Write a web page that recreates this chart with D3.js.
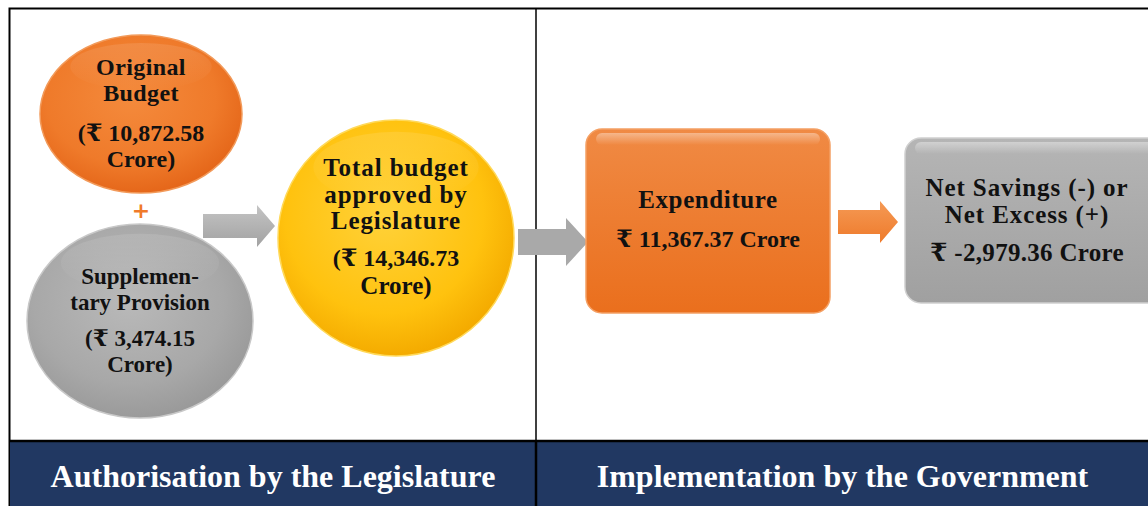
<!DOCTYPE html>
<html>
<head>
<meta charset="utf-8">
<script src="https://cdn.jsdelivr.net/npm/d3@7"></script>
<style>
  body { margin: 0; background: #fff; }
  svg { display: block; }
  .lbl { font-family: "Liberation Serif", "DejaVu Serif", serif; font-weight: bold; }
</style>
</head>
<body>
<svg id="chart" width="1148" height="506"></svg>
<script>
// values in crore
const budgetItems = ['Original Budget', 'Supplementary Provision', 'Total budget', 'Expenditure', 'Net Savings'];
const budgetValues = [10872.58, 3474.15, 14346.73, 11367.37, -2979.36];
const sectionTitles = ['Authorisation by the Legislature', 'Implementation by the Government'];

const fmt = d3.formatLocale({ decimal: '.', thousands: ',', grouping: [3], currency: ['', ''], minus: '-' }).format(',.2f');
const svg = d3.select('#chart');
const defs = svg.append('defs');

function radial(id, hi, mid, lo) {
    const g = defs.append('radialGradient').attr('id', id)
        .attr('cx', '45%').attr('cy', '40%').attr('r', '60%');
    g.append('stop').attr('offset', '0%').attr('stop-color', hi);
    g.append('stop').attr('offset', '70%').attr('stop-color', mid);
    g.append('stop').attr('offset', '100%').attr('stop-color', lo);
}
function linear(id, top, bottom) {
    const g = defs.append('linearGradient').attr('id', id)
        .attr('x1', 0).attr('y1', 0).attr('x2', 0).attr('y2', 1);
    g.append('stop').attr('offset', '0%').attr('stop-color', top);
    g.append('stop').attr('offset', '100%').attr('stop-color', bottom);
}
radial('gOrange', '#f48a3c', '#ef7a2a', '#e5671a');
radial('gGray', '#b9b9b9', '#a8a8a8', '#9a9a9a');
radial('gYellow', '#ffd23a', '#ffc20e', '#f4ab00');
linear('gRectO', '#f08a44', '#ea6f1d');
linear('gRectG', '#b5b5b5', '#a0a0a0');
linear('gArrowG', '#c4c4c4', '#a2a2a2');
linear('gArrowO', '#f59a55', '#ee7a2b');
linear('gShine', 'rgba(255,255,255,0.55)', 'rgba(255,255,255,0)');

// frame
svg.append('rect').attr('x', 9.5).attr('y', 8.5).attr('width', 1140).attr('height', 497)
    .attr('fill', 'none').attr('stroke', '#000').attr('stroke-width', 2);
svg.append('line').attr('x1', 536).attr('x2', 536).attr('y1', 8).attr('y2', 506)
    .attr('stroke', '#000').attr('stroke-width', 1.5);

// footer band
const xBand = d3.scaleOrdinal().domain(sectionTitles).range([[10, 536], [537, 1148]]);
sectionTitles.forEach(t => {
    const [a, b] = xBand(t);
    svg.append('rect').attr('x', a).attr('y', 441).attr('width', b - a).attr('height', 65)
        .attr('fill', '#213862');
    svg.append('text').attr('class', 'lbl').attr('x', (a + b) / 2).attr('y', 487)
        .attr('text-anchor', 'middle').attr('fill', '#fff')
        .attr('font-size', 32).text(t);
});
svg.append('line').attr('x1', 9).attr('x2', 1148).attr('y1', 441).attr('y2', 441)
    .attr('stroke', '#000').attr('stroke-width', 2.5);
svg.append('line').attr('x1', 536).attr('x2', 536).attr('y1', 441).attr('y2', 506)
    .attr('stroke', '#000').attr('stroke-width', 2.5);

function label(lines, cx, baselines, sizes, spacing) {
    const t = svg.append('text').attr('class', 'lbl').attr('text-anchor', 'middle').attr('fill', '#111');
    lines.forEach((l, i) => t.append('tspan').attr('x', cx).attr('y', baselines[i])
        .attr('font-size', sizes[i]).attr('letter-spacing', spacing ? spacing[i] : 0).text(l));
}

function ellipse(cx, cy, rx, ry, fill, stroke) {
    svg.append('ellipse').attr('cx', cx).attr('cy', cy).attr('rx', rx).attr('ry', ry)
        .attr('fill', fill).attr('stroke', stroke).attr('stroke-width', 1.5);
    svg.append('ellipse').attr('cx', cx).attr('cy', cy - ry * 0.6).attr('rx', rx * 0.7).attr('ry', ry * 0.3)
        .attr('fill', 'url(#gShine)').attr('opacity', 0.2);
}

function arrow(x0, x1, cy, shaftH, headH, headW, fill) {
    const pts = [
        [x0, cy - shaftH / 2], [x1 - headW, cy - shaftH / 2], [x1 - headW, cy - headH / 2],
        [x1, cy], [x1 - headW, cy + headH / 2], [x1 - headW, cy + shaftH / 2], [x0, cy + shaftH / 2]
    ];
    svg.append('path').attr('d', d3.line()(pts) + 'Z').attr('fill', fill);
}

function roundBox(x, y, w, h, fill, stroke) {
    svg.append('rect').attr('x', x).attr('y', y).attr('width', w).attr('height', h)
        .attr('rx', 16).attr('fill', fill).attr('stroke', stroke).attr('stroke-width', 1.5);
    svg.append('rect').attr('x', x + 10).attr('y', y + 4).attr('width', w - 20).attr('height', 12)
        .attr('rx', 6).attr('fill', 'url(#gShine)').attr('opacity', 0.7);
}

// original budget
ellipse(141, 114, 101, 79, 'url(#gOrange)', '#f29a5a');
label(['Original', 'Budget', '(\u20B9 ' + fmt(budgetValues[0]), 'Crore)'], 141, [75, 101, 141, 167], [24, 24, 24, 24], [0.4, 0.4, 0, 0]);

// plus
svg.append('text').attr('x', 141).attr('y', 218).attr('text-anchor', 'middle')
    .attr('font-family', 'DejaVu Sans, sans-serif').attr('font-weight', 'bold')
    .attr('font-size', 22).attr('fill', '#f07a2a').text('+');

// supplementary
ellipse(140, 321, 113, 97, 'url(#gGray)', '#c8c8c8');
label(['Supplemen-', 'tary Provision', '(\u20B9 ' + fmt(budgetValues[1]), 'Crore)'], 140, [284, 310, 346, 372], [23, 23, 23, 23]);

// arrow 1
arrow(203, 275, 226, 24, 42, 18, 'url(#gArrowG)');

// total budget
ellipse(396, 238, 118, 118, 'url(#gYellow)', '#ffd95a');
label(['Total budget', 'approved by', 'Legislature', '(\u20B9 ' + fmt(budgetValues[2]), 'Crore)'], 396,
    [176, 203, 229, 266, 294], [25, 25, 25, 24, 25], [0.9, 0.9, 0.9, 0, 0]);

// arrow 2
arrow(518, 588, 242, 26, 48, 22, '#a9a9a9');

// expenditure
roundBox(586, 129, 244, 184, 'url(#gRectO)', '#f4a064');
label(['Expenditure', '\u20B9 ' + fmt(budgetValues[3]) + ' Crore'], 708, [208, 247], [25, 24], [0.6, 0]);

// arrow 3
arrow(838, 898, 222, 24, 42, 18, 'url(#gArrowO)');

// net savings
roundBox(905, 138, 260, 165, 'url(#gRectG)', '#d0d0d0');
label(['Net Savings (-) or', 'Net Excess (+)', '\u20B9 ' + fmt(budgetValues[4]) + ' Crore'], 1027,
    [196, 223, 261], [25, 25, 25], [0.9, 0.9, 0.3]);
</script>
</body>
</html>
